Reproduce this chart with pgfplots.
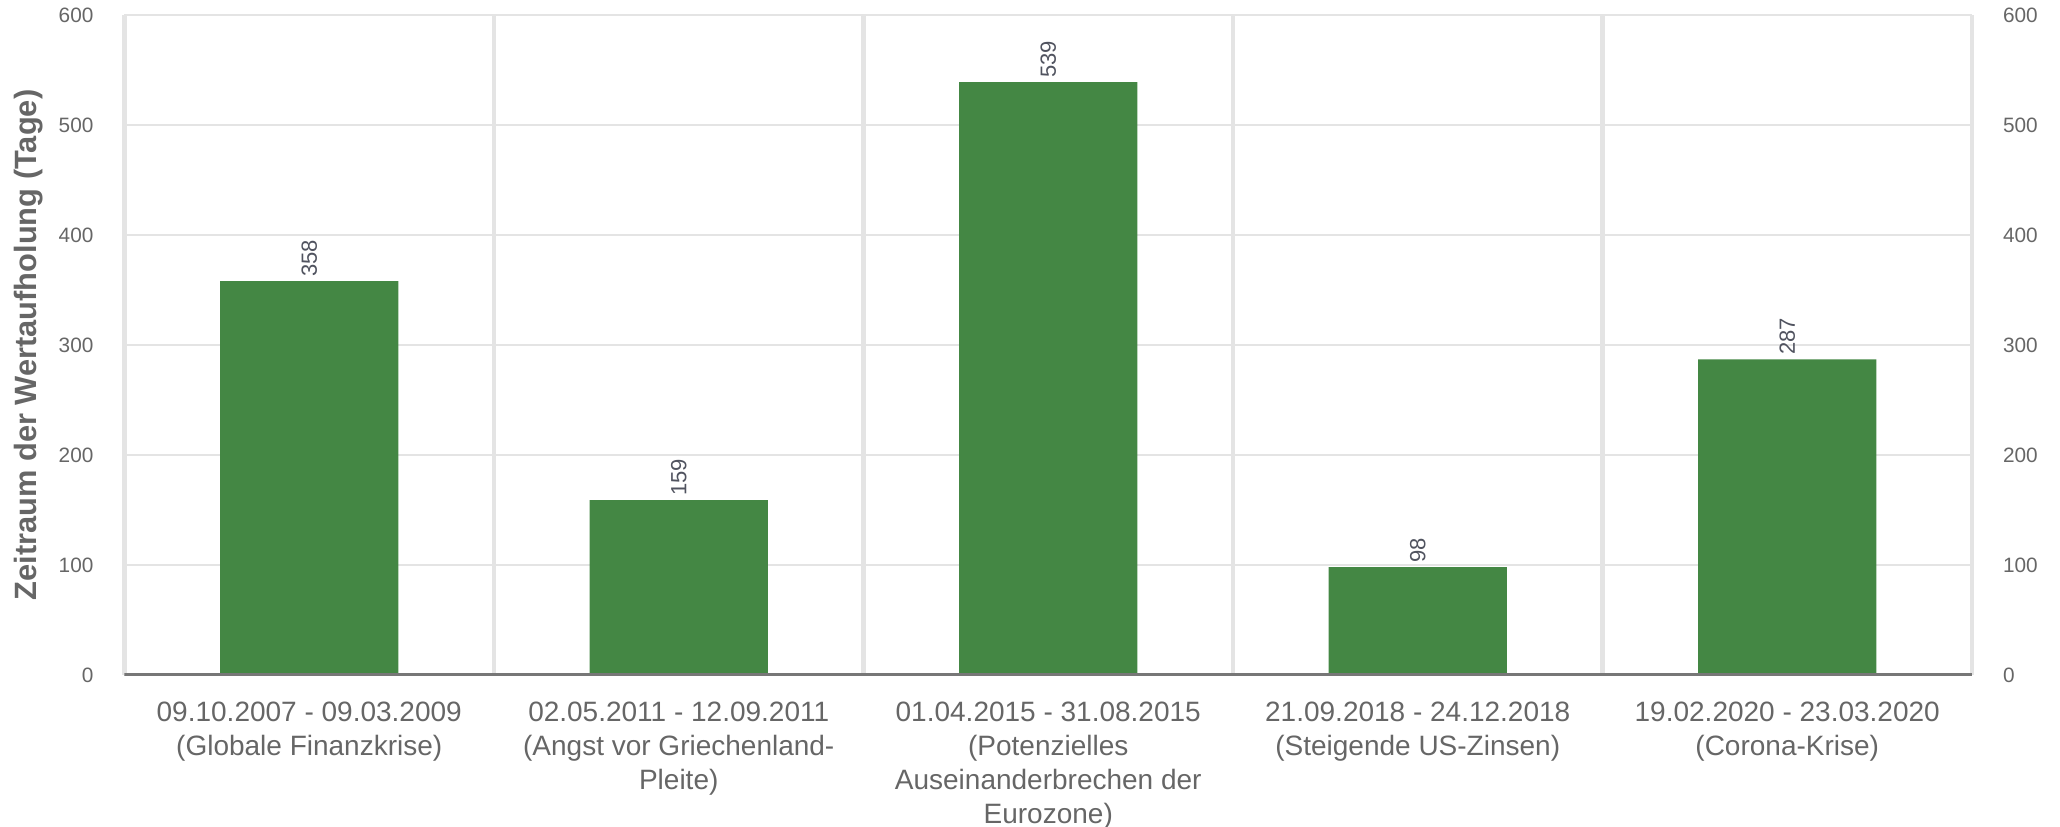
\documentclass[border=0pt]{standalone}
\usepackage{fontspec}
\setmainfont{Liberation Sans}
\usepackage{pgfplots}
\pgfplotsset{compat=1.18}

\definecolor{bargreen}{HTML}{448744}
\definecolor{tickgray}{HTML}{666666}
\definecolor{gridgray}{HTML}{E4E4E4}
\definecolor{basegray}{HTML}{777777}
\definecolor{valgray}{HTML}{50535F}

\begin{document}
\begin{tikzpicture}
\useasboundingbox (-62.25pt,-75.5pt) rectangle (967.75pt,337.5pt);
\begin{axis}[
    scale only axis,
    width=923.75pt,
    height=330pt,
    xmin=0.5, xmax=5.5,
    ymin=0, ymax=600,
    ytick={0,100,...,600},
    xtick={1,2,3,4,5},
    xticklabels={
        {09.10.2007 - 09.03.2009\\(Globale Finanzkrise)},
        {02.05.2011 - 12.09.2011\\(Angst vor Griechenland-\\Pleite)},
        {01.04.2015 - 31.08.2015\\(Potenzielles\\Auseinanderbrechen der\\Eurozone)},
        {21.09.2018 - 24.12.2018\\(Steigende US-Zinsen)},
        {19.02.2020 - 23.03.2020\\(Corona-Krise)}
    },
    minor xtick={1.5,2.5,3.5,4.5},
    xminorgrids,
    ymajorgrids,
    major grid style={gridgray, line width=1pt},
    minor grid style={gridgray, line width=2.2pt},
    major tick length=0pt,
    minor tick length=0pt,
    separate axis lines,
    x axis line style={draw=none},
    y axis line style={draw=gridgray, line width=2.2pt},
    /pgf/number format/assume math mode=true,
    yticklabel style={font=\fontsize{10.4}{12}\selectfont, text=tickgray},
    yticklabel shift=12pt,
    xticklabel style={font=\fontsize{14}{17}\selectfont, text=tickgray, align=center},
    xticklabel shift=10pt,
    ylabel={Zeitraum der Wertaufholung (Tage)},
    ylabel style={at={(axis description cs:-0.0517,0.5)}, anchor=center,
        font=\bfseries\fontsize{15.4}{18}\selectfont, text=tickgray},
    ybar,
    bar width=0.483,
    nodes near coords,
    nodes near coords style={rotate=90, anchor=west, inner sep=2pt,
        font=\fontsize{11}{13}\selectfont, text=valgray},
]
\addplot[fill=bargreen, draw=none] coordinates {
    (1,358) (2,159) (3,539) (4,98) (5,287)
};
\draw[basegray, line width=2pt] (rel axis cs:0,0) -- (rel axis cs:1,0);
\end{axis}
\begin{axis}[
    scale only axis,
    width=923.75pt,
    height=330pt,
    xmin=0.5, xmax=5.5,
    ymin=0, ymax=600,
    ytick={0,100,...,600},
    axis x line=none,
    axis y line*=right,
    axis line style={draw=none},
    major tick length=0pt,
    /pgf/number format/assume math mode=true,
    yticklabel style={font=\fontsize{10.4}{12}\selectfont, text=tickgray},
    yticklabel shift=12pt,
]
\end{axis}
\end{tikzpicture}
\end{document}
